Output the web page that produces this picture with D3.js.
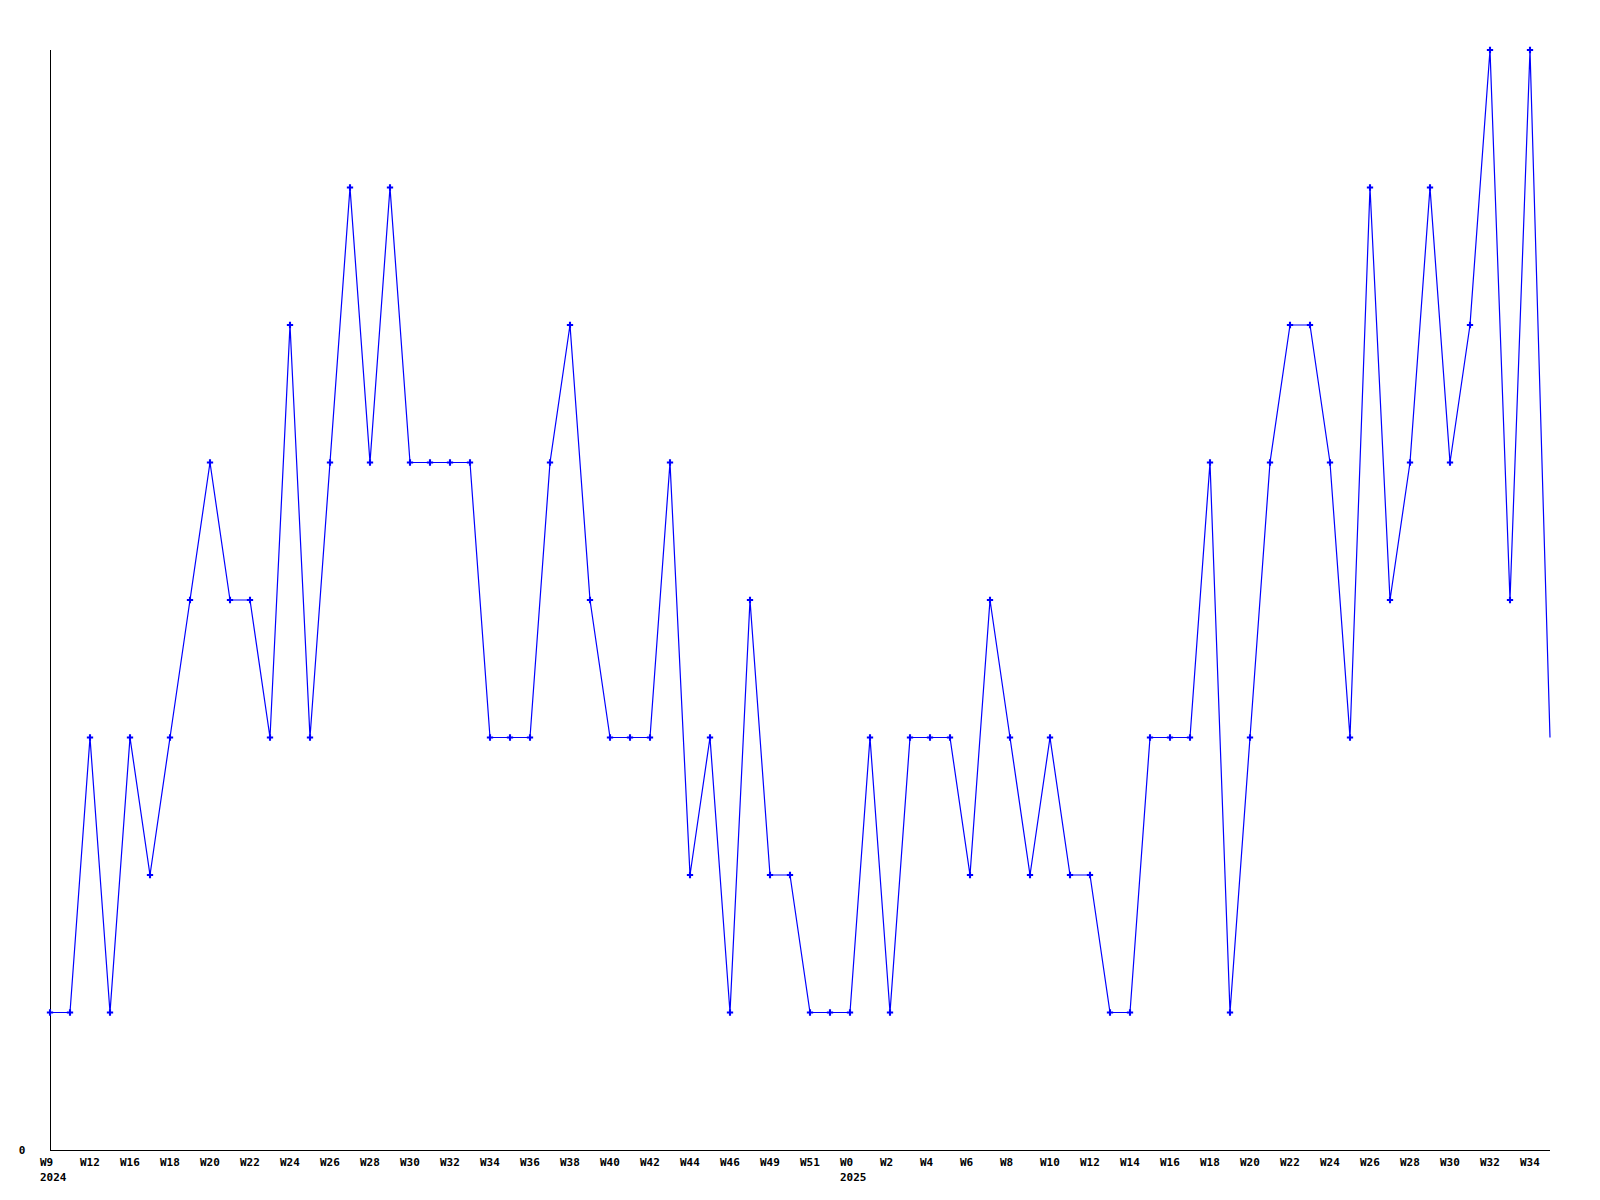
<!DOCTYPE html>
<html>
<head>
<meta charset="utf-8">
<script src="https://cdn.jsdelivr.net/npm/d3@7"></script>
<style>
  html, body { margin: 0; padding: 0; background: #fff; }
  svg { display: block; }
  text { font-family: "DejaVu Sans Mono", "Liberation Mono", monospace; font-weight: bold; font-size: 11px; fill: #000; }
</style>
</head>
<body>
<script>
// Weekly values, one per point (index 0 = 2024 W9 ... last point is the unlabeled trailing week)
const values = [1,1,3,1,3,2,3,4,5,4,4,3,6,3,5,7,5,7,5,5,5,5,3,3,3,5,6,4,3,3,3,5,2,3,1,4,2,2,1,1,
                1,3,1,3,3,3,2,4,3,2,3,2,2,1,1,3,3,3,5,1,3,5,6,6,5,3,7,4,5,7,5,6,8,4,8,3];
// Tick labels, placed on every second point
const tickLabels = ["W9","W12","W16","W18","W20","W22","W24","W26","W28","W30","W32","W34","W36","W38",
                    "W40","W42","W44","W46","W49","W51","W0","W2","W4","W6","W8","W10","W12","W14",
                    "W16","W18","W20","W22","W24","W26","W28","W30","W32","W34"];
// Year labels: [point index, text]
const yearIdx = [0, 40];
const yearText = ["2024", "2025"];
const yTicks = [0];
const yMax = 8;

const W = 1600, H = 1200;
const svg = d3.select("body").append("svg").attr("width", W).attr("height", H);

const x = d3.scaleLinear().domain([0, values.length - 1]).range([50, 1550]);
const y = d3.scaleLinear().domain([0, yMax]).range([1150, 50]);

// axes lines
svg.append("line").attr("x1", 50.5).attr("x2", 50.5).attr("y1", y(yMax)).attr("y2", y(0) + 0.5)
  .attr("stroke", "#000").attr("stroke-width", 1).attr("shape-rendering", "crispEdges");
svg.append("line").attr("x1", 50).attr("x2", x(values.length - 1)).attr("y1", y(0) + 0.5).attr("y2", y(0) + 0.5)
  .attr("stroke", "#000").attr("stroke-width", 1).attr("shape-rendering", "crispEdges");

// y tick label
svg.selectAll(".ylab").data(yTicks).enter().append("text")
  .attr("x", 22).attr("y", d => y(d) + 4).attr("text-anchor", "middle").text(d => d);

// x tick labels
svg.selectAll(".xlab").data(tickLabels).enter().append("text")
  .attr("x", (d, i) => x(i * 2) - 10).attr("y", 1166).text(d => d);

svg.selectAll(".yearlab").data(yearIdx).enter().append("text")
  .attr("x", d => x(d) - 10).attr("y", 1181).text((d, i) => yearText[i]);

// line
const line = d3.line().x((d, i) => x(i)).y(d => y(d));
svg.append("path").datum(values).attr("d", line)
  .attr("fill", "none").attr("stroke", "#0000ff").attr("stroke-width", 1.2);

// markers (not on the trailing point)
const sym = d3.symbol().type(d3.symbolCross).size(22);
svg.selectAll(".mk").data(values.slice(0, values.length - 1)).enter().append("path")
  .attr("transform", (d, i) => `translate(${x(i)},${y(d)})`)
  .attr("d", sym).attr("fill", "#0000ff");
</script>
</body>
</html>
